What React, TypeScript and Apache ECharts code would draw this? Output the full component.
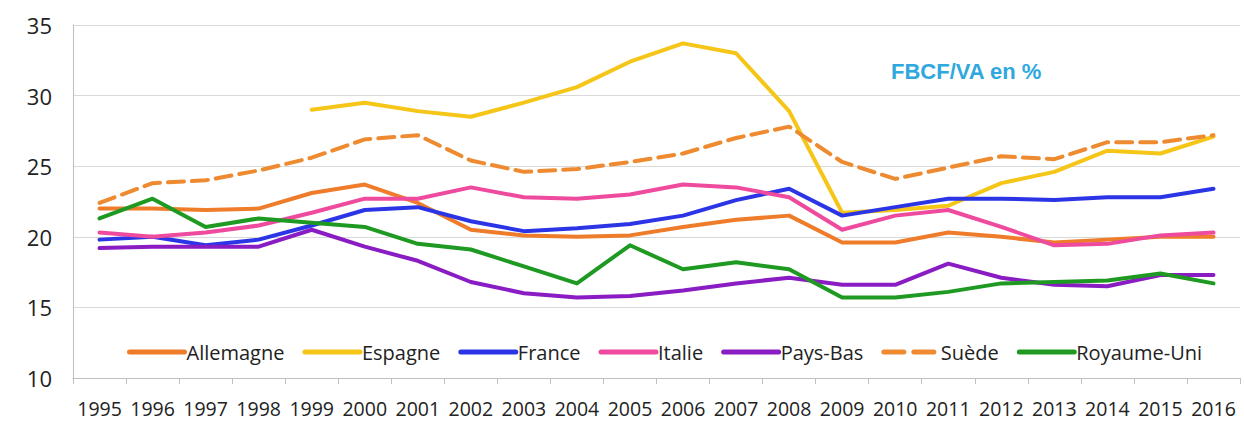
import React, { useEffect, useRef } from "react";
import * as echarts from "echarts";

const years = ["1995","1996","1997","1998","1999","2000","2001","2002","2003","2004","2005","2006","2007","2008","2009","2010","2011","2012","2013","2014","2015","2016"];

const allemagne = [22.0,22.0,21.9,22.0,23.1,23.7,22.4,20.5,20.1,20.0,20.1,20.7,21.2,21.5,19.6,19.6,20.3,20.0,19.6,19.8,20.0,20.0];
const espagne = [null,null,null,null,29.0,29.5,28.9,28.5,29.5,30.6,32.4,33.7,33.0,28.9,21.7,21.9,22.2,23.8,24.6,26.1,25.9,27.1];
const france = [19.8,20.0,19.4,19.8,20.8,21.9,22.1,21.1,20.4,20.6,20.9,21.5,22.6,23.4,21.5,22.1,22.7,22.7,22.6,22.8,22.8,23.4];
const italie = [20.3,20.0,20.3,20.8,21.7,22.7,22.7,23.5,22.8,22.7,23.0,23.7,23.5,22.8,20.5,21.5,21.9,20.7,19.4,19.5,20.1,20.3];
const paysBas = [19.2,19.3,19.3,19.3,20.5,19.3,18.3,16.8,16.0,15.7,15.8,16.2,16.7,17.1,16.6,16.6,18.1,17.1,16.6,16.5,17.3,17.3];
const suede = [22.4,23.8,24.0,24.7,25.6,26.9,27.2,25.4,24.6,24.8,25.3,25.9,27.0,27.8,25.3,24.1,24.9,25.7,25.5,26.7,26.7,27.2];
const royaumeUni = [21.3,22.7,20.7,21.3,21.0,20.7,19.5,19.1,17.9,16.7,19.4,17.7,18.2,17.7,15.7,15.7,16.1,16.7,16.8,16.9,17.4,16.7];

const yTicks = [10, 15, 20, 25, 30, 35];

const FONT = "'Open Sans', 'Liberation Sans', sans-serif";

export default function App() {
  const ref = useRef<HTMLDivElement>(null);
  useEffect(() => {
    if (!ref.current) return;
    const chart = echarts.init(ref.current, null, { renderer: "svg" });
    const mk = (name: string, data: (number | null)[], color: string, type: string = "solid") => ({
      name,
      type: "line",
      data,
      symbol: "none",
      showSymbol: false,
      connectNulls: false,
      lineStyle: { color, width: 4, type, cap: "round", join: "round" },
      itemStyle: { color },
    });
    chart.setOption({
      animation: false,
      backgroundColor: "#ffffff",
      title: {
        text: "FBCF/VA en %",
        left: 886,
        top: 55,
        textStyle: { color: "#2FA8DE", fontSize: 22, fontWeight: "bold", fontFamily: "'Liberation Sans', Arial, sans-serif" },
      },
      grid: { left: 73, right: 4, top: 25, bottom: 43, containLabel: false },
      legend: {
        left: 122,
        top: 337,
        width: 1115,
        orient: "horizontal",
        itemWidth: 55,
        itemHeight: 14,
        itemGap: 18,
        itemStyle: { opacity: 0 },
        lineStyle: { width: 5 },
        textStyle: { fontSize: 20, color: "#222", fontFamily: FONT, padding: [0, 0, 0, -3] },
        data: ["Allemagne", "Espagne", "France", "Italie", "Pays-Bas", "Suède", "Royaume-Uni"],
      },
      xAxis: {
        type: "category",
        data: years,
        boundaryGap: true,
        axisLine: { lineStyle: { color: "#BFBFBF", width: 1 } },
        axisTick: { show: true, length: 6, lineStyle: { color: "#BFBFBF" } },
        axisLabel: { color: "#222", fontSize: 19.5, fontFamily: FONT, margin: 20, interval: 0, hideOverlap: false },
      },
      yAxis: {
        type: "value",
        min: yTicks[0],
        max: yTicks[yTicks.length - 1],
        interval: 5,
        axisLine: { show: true, lineStyle: { color: "#BFBFBF" } },
        axisTick: { show: false },
        splitLine: { lineStyle: { color: "#D9D9D9", width: 1 } },
        axisLabel: { color: "#222", fontSize: 22, fontFamily: FONT, margin: 21 },
      },
      series: [
        mk("Allemagne", allemagne, "#EE7C2A"),
        mk("Espagne", espagne, "#F5C518"),
        mk("France", france, "#2B35E6"),
        mk("Italie", italie, "#EE4A9E"),
        mk("Pays-Bas", paysBas, "#8A1CC4"),
        mk("Suède", suede, "#EE8A30", "dashed"),
        mk("Royaume-Uni", royaumeUni, "#1E9A22"),
      ],
    });
    return () => chart.dispose();
  }, []);
  return <div ref={ref} style={{ width: 1244, height: 421, position: "absolute", left: 0, top: 0 }} />;
}
